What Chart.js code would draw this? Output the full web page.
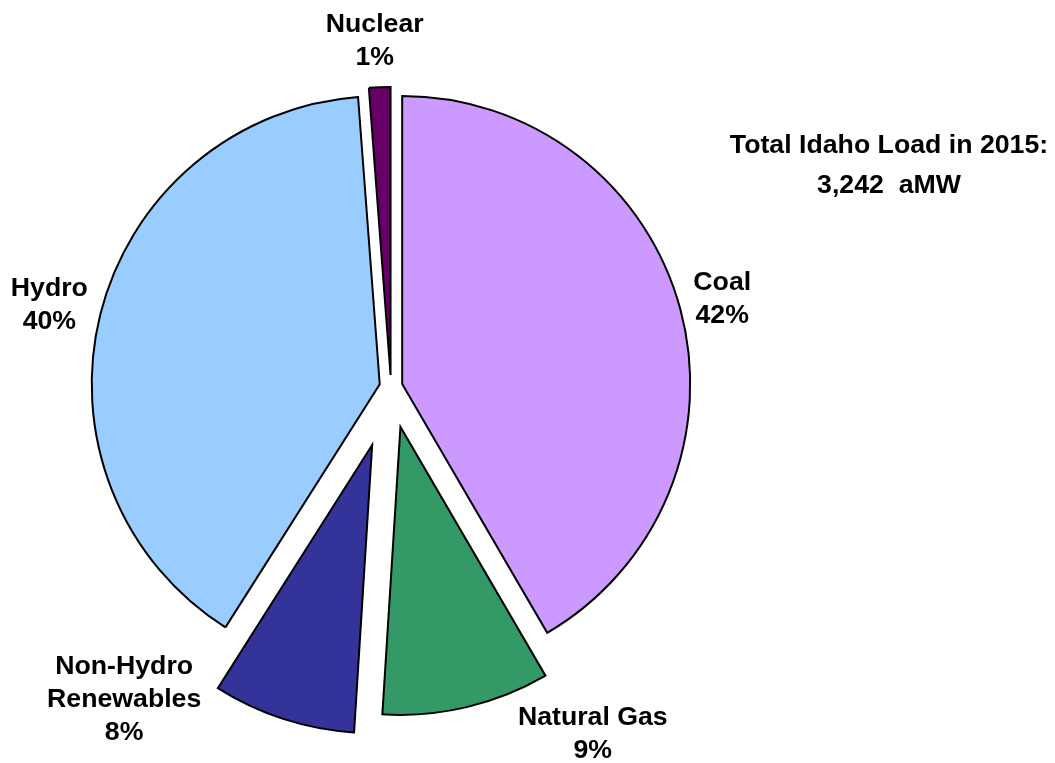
<!DOCTYPE html>
<html lang="en">
<head>
<meta charset="UTF-8">
<title>Total Idaho Load in 2015</title>
<script src="https://cdn.jsdelivr.net/npm/chart.js"></script>
<style>
    html, body { margin: 0; padding: 0; background: #fff; }
    #wrap { width: 1055px; height: 763px; position: relative; }
</style>
</head>
<body>
<div id="wrap"><canvas id="load-chart"></canvas></div>
<script>
    // shares of the 2015 load (%), clockwise from 12 o'clock
    var sources = ['Coal', 'Natural Gas', 'Non-Hydro Renewables', 'Hydro', 'Nuclear'];
    var labelLines = [['Coal'], ['Natural Gas'], ['Non-Hydro', 'Renewables'], ['Hydro'], ['Nuclear']];
    var shares = [41.6, 9.4, 8.0, 39.8, 1.2];
    var totalLoad = '3,242';

    var colors = ['#CC99FF', '#339966', '#333399', '#99CCFF', '#660066'];
    // how far each slice is pulled out, px
    var explode = [11.6, 41, 61, 11.6, 12];
    // label block centre relative to the slice's outer edge at its mid angle
    var labelNudge = [[42, -12], [126, 25], [-159, -21], [-51, -11], [-5, -48]];

    var R = 288;
    var FONT = 'bold 26.7px "Liberation Sans", Arial, sans-serif';
    var LINE = 33;
    var CAP = 19;

    // chart.js grows the radius of offset arcs a bit; undo that so all slices match
    var keepRadius = {
        id: 'keepRadius',
        afterUpdate: function(chart) {
            chart.getDatasetMeta(0).data.forEach(function(arc, i) {
                var fix = 1 - Math.sin(Math.min(Math.PI, arc.circumference));
                var ro = explode[i] * fix;
                var half = ro / Math.PI / R / 2;
                arc.outerRadius = R - ro;
                arc.startAngle -= half;
                arc.endAngle += half;
            });
        }
    };

    var sliceLabels = {
        id: 'sliceLabels',
        afterDraw: function(chart) {
            var ctx = chart.ctx;
            ctx.save();
            ctx.font = FONT;
            ctx.fillStyle = '#000';
            ctx.textAlign = 'center';
            ctx.textBaseline = 'alphabetic';
            chart.getDatasetMeta(0).data.forEach(function(arc, i) {
                var mid = (arc.startAngle + arc.endAngle) / 2;
                var d = R + explode[i];
                var cx = arc.x + Math.cos(mid) * d + labelNudge[i][0];
                var cy = arc.y + Math.sin(mid) * d + labelNudge[i][1];
                var lines = labelLines[i].concat([Math.round(shares[i]) + '%']);
                var y0 = cy - (lines.length - 1) * LINE / 2 + CAP / 2;
                lines.forEach(function(s, k) {
                    ctx.fillText(s, cx, y0 + k * LINE);
                });
            });
            ctx.fillText('Total Idaho Load in 2015:', 889, 153);
            ctx.fillText(totalLoad + '  aMW', 889, 193);
            ctx.restore();
        }
    };

    var ctx = document.getElementById('load-chart').getContext('2d');
    var loadChart = new Chart(ctx, {
        type: 'pie',
        data: {
            labels: sources,
            datasets: [{
                data: shares,
                backgroundColor: colors,
                borderColor: '#000',
                borderWidth: 2,
                borderJoinStyle: 'miter',
                offset: explode.map(function(t) { return t * 4; })
            }]
        },
        options: {
            responsive: true,
            maintainAspectRatio: false,
            animation: false,
            radius: R,
            layout: { padding: { left: 0, right: 273, top: 11, bottom: 0 } },
            plugins: {
                legend: { display: false },
                tooltip: { enabled: false }
            }
        },
        plugins: [keepRadius, sliceLabels]
    });
</script>
</body>
</html>
